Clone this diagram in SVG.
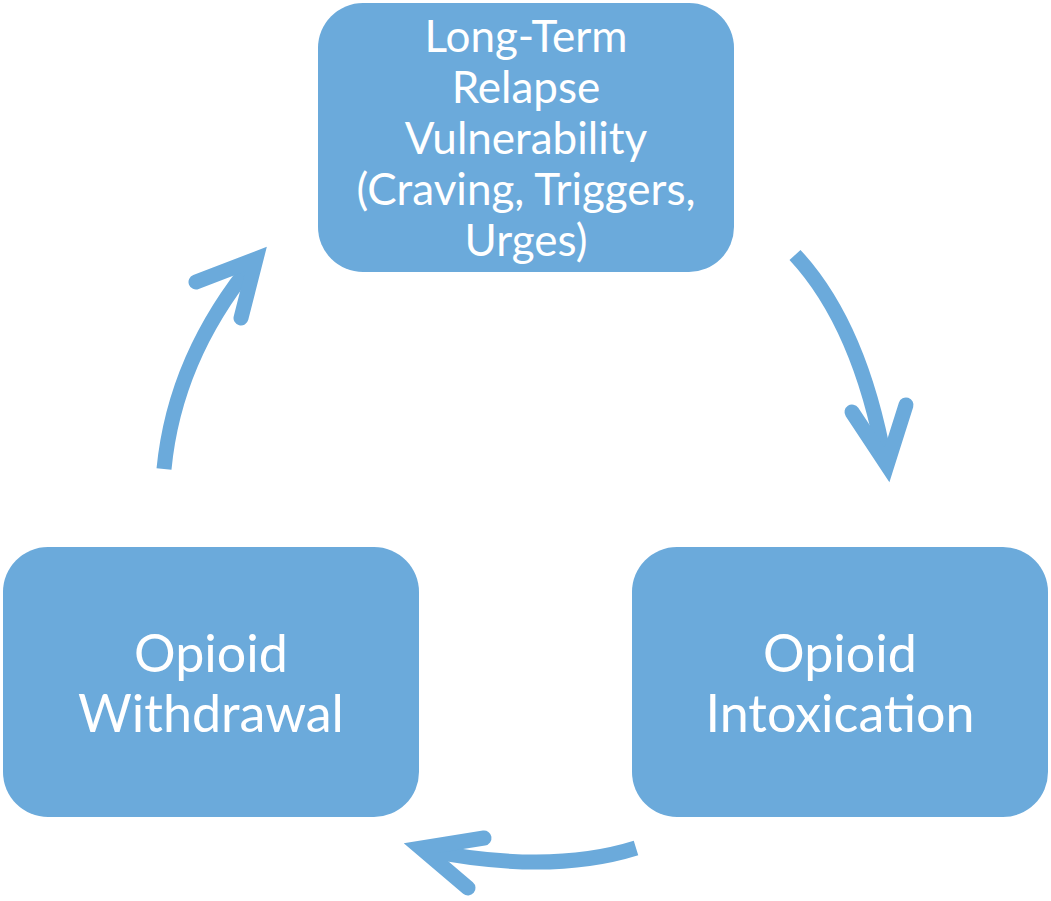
<svg xmlns="http://www.w3.org/2000/svg" width="1051" height="901" viewBox="0 0 1051 901">
<style>
.box{fill:#6BAADB;}
.lbl{fill:#FFFFFF;font-family:Lato,"Open Sans","Liberation Sans",sans-serif;text-anchor:middle;}
.big{font-size:52px;}
.small{font-size:44px;}
.arr{fill:none;stroke:#6BAADB;stroke-width:15;stroke-linecap:butt;}
.head{fill:none;stroke:#6BAADB;stroke-width:15;stroke-linecap:round;stroke-linejoin:miter;stroke-miterlimit:10;}
</style>
<rect width="1051" height="901" fill="#FFFFFF"/>
<g id="node-relapse">
<rect class="box" x="318" y="3" width="416" height="269" rx="45" ry="45"/>
<text class="lbl small" x="526" y="52">Long-Term</text>
<text class="lbl small" x="526" y="103">Relapse</text>
<text class="lbl small" x="526" y="154">Vulnerability</text>
<text class="lbl small" x="526" y="205">(Craving, Triggers,</text>
<text class="lbl small" x="526" y="256">Urges)</text>
</g>
<g id="node-withdrawal">
<rect class="box" x="3" y="547" width="416" height="270" rx="45" ry="45"/>
<text class="lbl big" x="211" y="672">Opioid</text>
<text class="lbl big" x="211" y="732">Withdrawal</text>
</g>
<g id="node-intoxication">
<rect class="box" x="632" y="547" width="416" height="270" rx="45" ry="45"/>
<text class="lbl big" x="840" y="672">Opioid</text>
<text class="lbl big" x="840" y="732">Intoxication</text>
</g>
<g id="connectors">
<path class="arr" d="M164,469 Q175,356 255,260"/>
<polyline class="head" points="196,282 256,259 241,318"/>
<path class="arr" d="M795,255 Q860,325 885,462"/>
<polyline class="head" points="852,412 887,465 906,405"/>
<path class="arr" d="M636,848 Q550,875 425,850"/>
<polyline class="head" points="484,838 421,848 468,888"/>
</g>
</svg>
